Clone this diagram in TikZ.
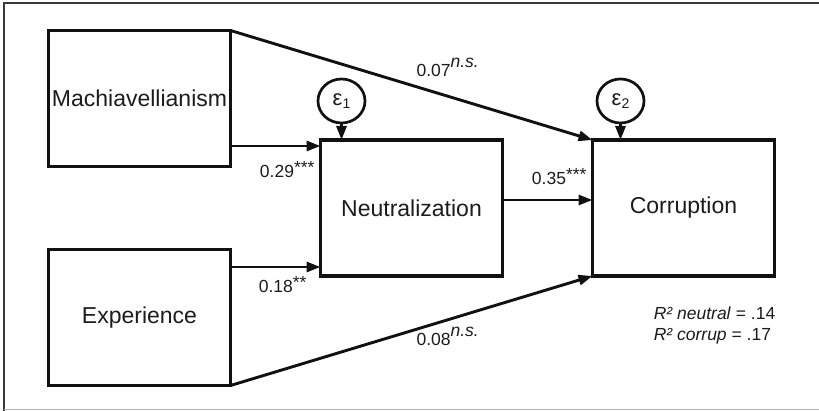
\documentclass[tikz,border=0pt]{standalone}
\usepackage{fontspec}
\setmainfont{Liberation Sans}
\usetikzlibrary{
  positioning,
  shapes.geometric,
  arrows.meta,
  calc
}
\definecolor{lineBlack}{HTML}{111111}
\definecolor{textBlack}{HTML}{1C1C1C}
\definecolor{frameGray}{HTML}{3A3A3A}
\definecolor{frameLight}{HTML}{B4B4B4}
\newcommand{\nsMark}{\raisebox{9pt}{\itshape n.s.}}
\newcommand{\sigMark}[1]{\raisebox{4pt}{#1}}
\newcommand{\errSub}[1]{\raisebox{-3.5pt}{\fontsize{14}{14}\selectfont #1}}
\tikzset{
  varNode/.style={
    draw=lineBlack, line width=3.3pt, minimum width=182pt,
    minimum height=136pt, inner sep=0pt, outer sep=0pt,
    font=\fontsize{23}{27}\selectfont, text=textBlack
  },
  errNode/.style={
    draw=lineBlack, ellipse, line width=2.7pt, minimum width=47pt,
    minimum height=44pt, inner sep=0pt, outer sep=0pt,
    font=\fontsize{22}{22}\selectfont, text=textBlack
  },
  pathArrow/.style={
    draw=lineBlack, -{Triangle[length=14pt,width=10pt]}, line width=2.9pt
  },
  coefLabel/.style={
    font=\fontsize{17.5}{21}\selectfont, text=textBlack, inner sep=1pt
  },
  noteText/.style={
    font=\fontsize{17.5}{21}\selectfont, text=textBlack, align=left,
    inner sep=1pt
  },
  frameLine/.style={draw=frameGray, line width=1.3pt},
  frameLow/.style={draw=frameLight, line width=1.3pt}
}

\begin{document}
\begin{tikzpicture}[x=1pt, y=1pt]
\useasboundingbox (0,0) rectangle (819,-411);

% ── Frame ───────────────────────────────────────────────────────────
\draw[frameLine] (4,-411) -- (4,-3) -- (819,-3);
\draw[frameLow] (4,-409.5) -- (819,-409.5);

% ── Predictors ──────────────────────────────────────────────────────
\node[varNode] (mach) at (139.5,-98.5) {Machiavellianism};
\node[varNode, below=83pt of mach] (expe) {Experience};

% ── Mediator and outcome ────────────────────────────────────────────
\node[varNode, right=90pt of $(mach.east)!0.5!(expe.east)$] (neut)
  {Neutralization};
\node[varNode, right=90pt of neut] (corr) {Corruption};

% ── Error terms ─────────────────────────────────────────────────────
\node[errNode, above=17pt of neut.north west, xshift=21pt] (e1) {ε\errSub{1}};
\node[errNode, above=17pt of corr.north west, xshift=28pt] (e2) {ε\errSub{2}};

% ── R squared ───────────────────────────────────────────────────────
\node[noteText, below left=30pt and -2pt of corr.south east] (rsq)
  {\textit{R² neutral} = .14\\\textit{R² corrup} = .17};

% ── EDGES ───────────────────────────────────────────────────────────
\coordinate (inM) at ([yshift=-6pt]neut.north west);
\coordinate (inE) at ([yshift=9pt]neut.south west);
\coordinate (inN) at ([yshift=8pt]neut.east);

% Errors → variables
\draw[pathArrow] (e1.south) -- (e1.south |- neut.north);
\draw[pathArrow] (e2.south) -- (e2.south |- corr.north);

% Predictors → Neutralization
\draw[pathArrow] (mach.east |- inM) -- (inM)
  node[coefLabel, pos=0.63, below=13pt] (c29) {0.29\sigMark{***}};
\draw[pathArrow] (expe.east |- inE) -- (inE)
  node[coefLabel, pos=0.58, below=7pt] (c18) {0.18\sigMark{**}};

% Neutralization → Corruption
\draw[pathArrow] (inN) -- (inN -| corr.west)
  node[coefLabel, pos=0.63, above=13pt] (c35) {0.35\sigMark{***}};

% Direct paths
\draw[pathArrow] (mach.north east) -- (corr.north west)
  node[coefLabel, pos=0.6, above=17pt] (c07) {0.07\nsMark};
\draw[pathArrow] (expe.south east) -- (corr.south west)
  node[coefLabel, pos=0.6, below=5pt] (c08) {0.08\nsMark};

\end{tikzpicture}
\end{document}
